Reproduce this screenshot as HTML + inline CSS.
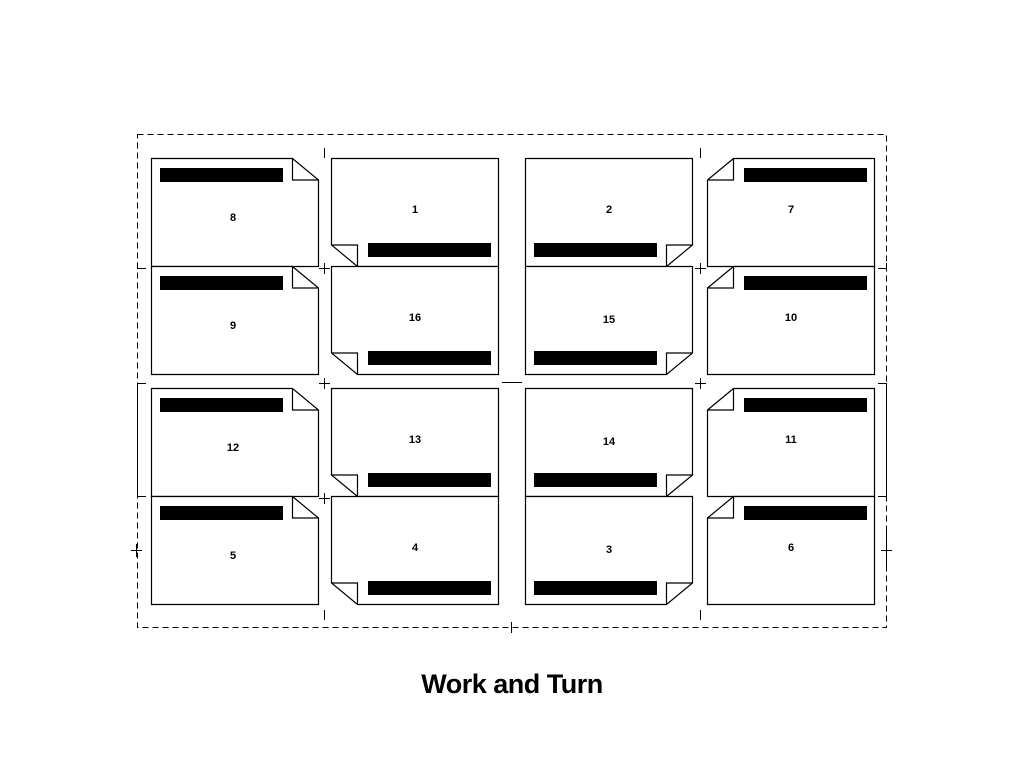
<!DOCTYPE html>
<html><head><meta charset="utf-8"><style>
html,body{margin:0;padding:0;background:#fff;width:1024px;height:768px;overflow:hidden}
svg{display:block}
</style></head><body>
<svg width="1024" height="768" viewBox="0 0 1024 768" xmlns="http://www.w3.org/2000/svg">
<rect x="137.5" y="134.5" width="749" height="493" fill="none" stroke="#000" stroke-width="1" stroke-dasharray="6,4"/>
<g fill="#fff" stroke="#000" stroke-width="1.2" stroke-linejoin="miter">
<!-- column A: fold top-right -->
<g id="A">
<path d="M151.5,158.5 H292.5 L318.5,180 V266.5 H151.5 Z"/><path d="M292.5,158.5 V180 H318.5" fill="none"/>
<path d="M151.5,266.5 H292.5 L318.5,288 V374.5 H151.5 Z"/><path d="M292.5,266.5 V288 H318.5" fill="none"/>
<path d="M151.5,388.5 H292.5 L318.5,410 V496.5 H151.5 Z"/><path d="M292.5,388.5 V410 H318.5" fill="none"/>
<path d="M151.5,496.5 H292.5 L318.5,518 V604.5 H151.5 Z"/><path d="M292.5,496.5 V518 H318.5" fill="none"/>
</g>
<!-- column B: fold bottom-left -->
<path d="M331.5,158.5 H498.5 V266.5 H357.5 L331.5,245 Z"/><path d="M331.5,245 H357.5 V266.5" fill="none"/>
<path d="M331.5,266.5 H498.5 V374.5 H357.5 L331.5,353 Z"/><path d="M331.5,353 H357.5 V374.5" fill="none"/>
<path d="M331.5,388.5 H498.5 V496.5 H357.5 L331.5,475 Z"/><path d="M331.5,475 H357.5 V496.5" fill="none"/>
<path d="M331.5,496.5 H498.5 V604.5 H357.5 L331.5,583 Z"/><path d="M331.5,583 H357.5 V604.5" fill="none"/>
<!-- column C: fold bottom-right -->
<path d="M525.5,158.5 H692.5 V245 L666.5,266.5 H525.5 Z"/><path d="M692.5,245 H666.5 V266.5" fill="none"/>
<path d="M525.5,266.5 H692.5 V353 L666.5,374.5 H525.5 Z"/><path d="M692.5,353 H666.5 V374.5" fill="none"/>
<path d="M525.5,388.5 H692.5 V475 L666.5,496.5 H525.5 Z"/><path d="M692.5,475 H666.5 V496.5" fill="none"/>
<path d="M525.5,496.5 H692.5 V583 L666.5,604.5 H525.5 Z"/><path d="M692.5,583 H666.5 V604.5" fill="none"/>
<!-- column D: fold top-left -->
<path d="M707.5,180 L733.5,158.5 H874.5 V266.5 H707.5 Z"/><path d="M707.5,180 H733.5 V158.5" fill="none"/>
<path d="M707.5,288 L733.5,266.5 H874.5 V374.5 H707.5 Z"/><path d="M707.5,288 H733.5 V266.5" fill="none"/>
<path d="M707.5,410 L733.5,388.5 H874.5 V496.5 H707.5 Z"/><path d="M707.5,410 H733.5 V388.5" fill="none"/>
<path d="M707.5,518 L733.5,496.5 H874.5 V604.5 H707.5 Z"/><path d="M707.5,518 H733.5 V496.5" fill="none"/>
</g>
<g fill="#000">
<rect x="160" y="168" width="123" height="14"/><rect x="160" y="276" width="123" height="14"/>
<rect x="160" y="398" width="123" height="14"/><rect x="160" y="506" width="123" height="14"/>
<rect x="368" y="243" width="123" height="14"/><rect x="368" y="351" width="123" height="14"/>
<rect x="368" y="473" width="123" height="14"/><rect x="368" y="581" width="123" height="14"/>
<rect x="534" y="243" width="123" height="14"/><rect x="534" y="351" width="123" height="14"/>
<rect x="534" y="473" width="123" height="14"/><rect x="534" y="581" width="123" height="14"/>
<rect x="744" y="168" width="123" height="14"/><rect x="744" y="276" width="123" height="14"/>
<rect x="744" y="398" width="123" height="14"/><rect x="744" y="506" width="123" height="14"/>
</g>
<g font-family="Liberation Sans, sans-serif" font-weight="bold" font-size="11" text-anchor="middle" fill="#000">
<text x="233" y="221">8</text><text x="415" y="213">1</text><text x="609" y="213">2</text><text x="791" y="213">7</text>
<text x="233" y="329">9</text><text x="415" y="321">16</text><text x="609" y="323">15</text><text x="791" y="321">10</text>
<text x="233" y="451">12</text><text x="415" y="443">13</text><text x="609" y="445">14</text><text x="791" y="443">11</text>
<text x="233" y="559">5</text><text x="415" y="551">4</text><text x="609" y="553">3</text><text x="791" y="551">6</text>
</g>
<g stroke="#000" stroke-width="1" fill="none">
<path d="M324.5,148 V158 M700.5,148 V158 M324.5,610 V620 M700.5,610 V620 M511.5,622 V633"/>
<path d="M319,268.5 H330 M324.5,263 V274 M695,268.5 H706 M700.5,263 V274"/>
<path d="M319,383.5 H330 M324.5,378 V389 M695,383.5 H706 M700.5,378 V389"/>
<path d="M319,498.5 H330 M324.5,493 V504"/>
<path d="M502,382.5 H522"/>
<path d="M137,268.5 H146 M137,383.5 H146 M137.5,383 V497 M137,496.5 H146"/>
<path d="M131,550.5 H142 M136.5,544 V557"/>
<path d="M878,268.5 H887 M886.5,263 V268 M878,383.5 H887 M886.5,383 V497 M878,496.5 H887"/>
<path d="M881,550.5 H892 M886.5,528 V570"/>
</g>
<text x="512" y="693" font-family="Liberation Sans, sans-serif" font-weight="bold" font-size="27" text-anchor="middle" fill="#000" letter-spacing="-0.5">Work and Turn</text>
</svg>
</body></html>
